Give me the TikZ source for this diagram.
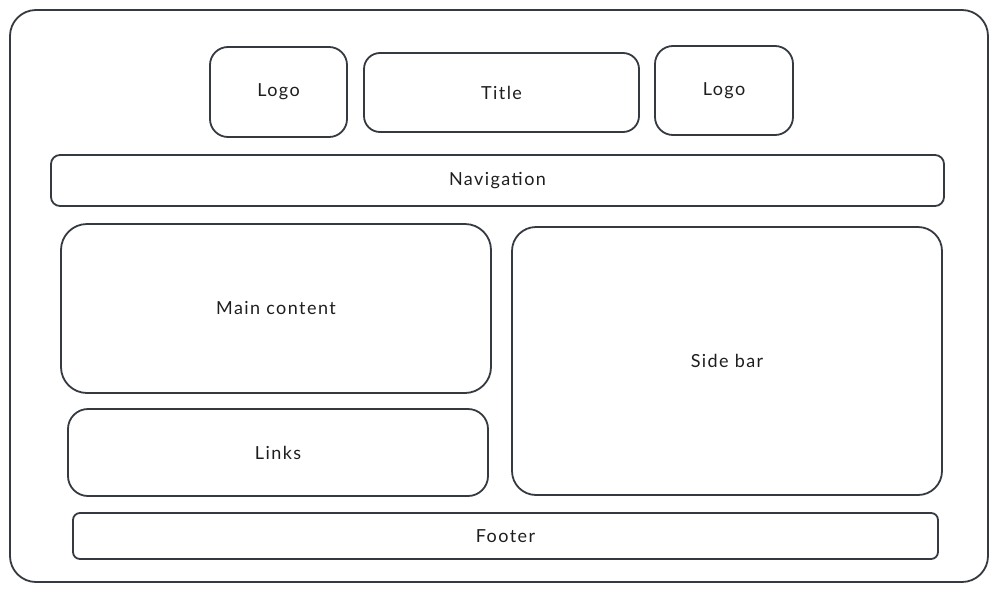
\documentclass[tikz,border=0pt]{standalone}
\usepackage{fontspec}
\setmainfont{Lato}[LetterSpace=8]
\begin{document}
\begin{tikzpicture}[x=1pt,y=-1pt,
  box/.style={draw=linegray, line width=1.8pt, rounded corners=#1, inner sep=0pt,
    text=textgray, font=\fontsize{18}{21}\selectfont},
  box/.default=18pt]
\definecolor{linegray}{HTML}{343A40}
\definecolor{textgray}{HTML}{1E1E1E}
\useasboundingbox (0,0) rectangle (999,592);
\node[box=26pt, minimum width=978pt, minimum height=572pt] (frame) at (499,296) {};
\node[box=18pt, minimum width=137pt, minimum height=90pt] (logoA) at (278.5,92) {Logo};
\node[box=16pt, minimum width=275pt, minimum height=79pt] (title) at (501.5,92.5) {Title};
\node[box=18pt, minimum width=138pt, minimum height=89pt] (logoB) at (724,90.5) {Logo};
\node[box=9pt, minimum width=893pt, minimum height=51pt] (nav) at (497.5,180.5) {Navigation};
\node[box=26pt, minimum width=430pt, minimum height=169pt] (main) at (276,308.5) {Main content};
\node[box=20pt, minimum width=420pt, minimum height=87pt] (links) at (278,452.5) {Links};
\node[box=24pt, minimum width=430pt, minimum height=268pt] (side) at (727,361) {Side bar};
\node[box=7pt, minimum width=865pt, minimum height=46pt] (footer) at (505.5,536) {Footer};
\end{tikzpicture}
\end{document}
